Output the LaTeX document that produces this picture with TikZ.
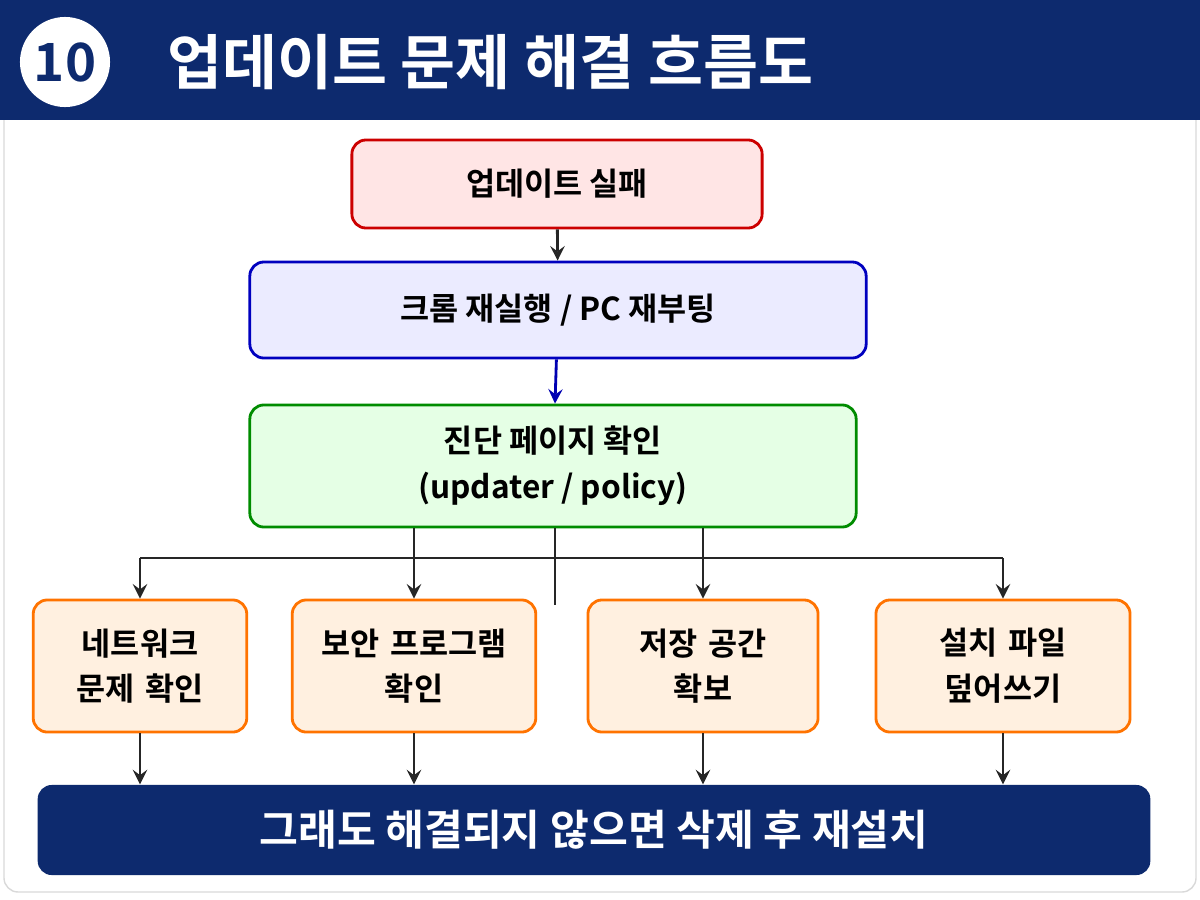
\documentclass[tikz,border=0pt]{standalone}
\usepackage{fontspec}
\setmainfont{Noto Sans CJK KR}[BoldFont={* Bold}]
\usetikzlibrary{positioning}
\definecolor{navy}{HTML}{0D2A6E}
\tikzset{
  flowbox/.style={rounded corners=4pt, line width=0.8pt, align=center, font=\bfseries\fontsize{9}{13}\selectfont},
  item/.style={flowbox, draw=orange!90!red, fill=orange!12, minimum height=1.32cm, text width=1.9cm},
  link/.style={-stealth, line width=0.8pt, black!85},
}
\begin{document}
\begin{tikzpicture}[x=0.01cm,y=-0.01cm]
\useasboundingbox (0,0) rectangle (1200,900);
\draw[rounded corners=4pt, draw=black!15, fill=white] (4,4) rectangle (1196,892);
\fill[navy] (0,0) rectangle (1200,120);
\node (num) [circle, fill=white, minimum size=0.9cm, inner sep=0pt, font=\bfseries\fontsize{15}{18}\selectfont, text=navy] at (65,62) {10};
\node (title) [anchor=west, text=white, font=\bfseries\fontsize{17}{20}\selectfont] at (155,62) {업데이트 문제 해결 흐름도};
% main steps
\node (fail) [flowbox, draw=red!80!black, fill=red!10, minimum width=4.1cm, minimum height=0.88cm] at (557,184) {업데이트 실패};
\node (restart) [flowbox, draw=blue!75!black, fill=blue!8, minimum width=6.16cm, minimum height=0.96cm] at (558,310) {크롬 재실행 / PC 재부팅};
\node (diag) [flowbox, draw=green!55!black, fill=green!10, minimum width=6.06cm, minimum height=1.22cm] at (553,466) {진단 페이지 확인\\(updater / policy)};
\draw[link] (fail) -- (restart);
\draw[link, blue!70!black] (restart) -- (diag);
% branches
\node (net) [item, minimum width=2.1cm] at (140,666) {네트워크\\문제 확인};
\node (sec) [item, minimum width=2.32cm, text width=2.2cm] at (414,666) {보안 프로그램\\확인};
\node (disk) [item, minimum width=2.3cm] at (703,666) {저장 공간\\확보};
\node (over) [item, minimum width=2.54cm] at (1003,666) {설치 파일\\덮어쓰기};
\node (final) [rounded corners=4pt, fill=navy, text=white, minimum width=11.12cm, minimum height=0.9cm, font=\bfseries\fontsize{12}{15}\selectfont] at (594,830) {그래도 해결되지 않으면 삭제 후 재설치};
\coordinate (busL) at (140,558);
\coordinate (busR) at (1003,558);
\coordinate (mid) at (555,605);
\draw[line width=0.8pt, black!85] (busL) -- (busR);
\draw[line width=0.8pt, black!85] (diag.south -| mid) -- (mid);
\foreach \n in {sec,disk}
  \draw[link] (diag.south -| \n) -- (\n);
\foreach \n in {net,over}
  \draw[link] (busL -| \n) -- (\n);
\foreach \n in {net,sec,disk,over}
  \draw[link] (\n) -- (\n |- final.north);
\end{tikzpicture}
\end{document}
